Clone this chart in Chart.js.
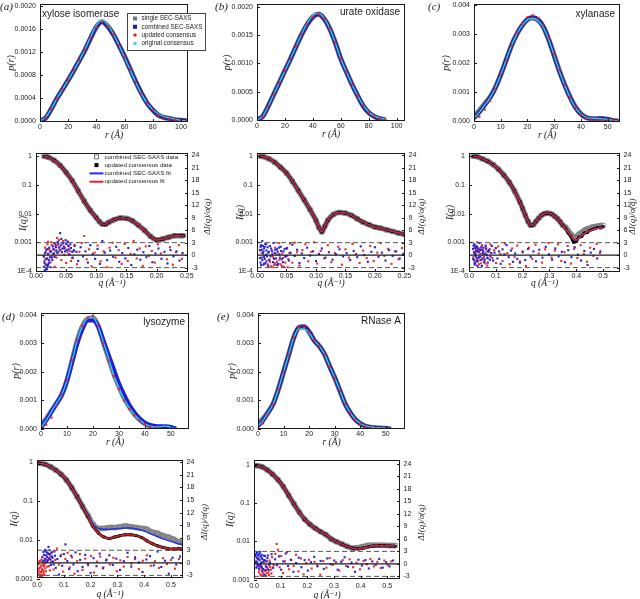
<!DOCTYPE html>
<html>
<head>
<meta charset="utf-8">
<title>SEC-SAXS comparison</title>
<script src="https://cdn.jsdelivr.net/npm/chart.js@4.4.1/dist/chart.umd.min.js"></script>
<style>
  html, body { margin: 0; padding: 0; background: #fff; }
  body { position: relative; width: 640px; height: 599px; overflow: hidden; }
  canvas { position: absolute; }
</style>
</head>
<body>
<script>
// ---------- p(r) data, r in Angstrom ----------
var rA = [0, 4, 8, 12, 16, 20, 24, 28, 32, 36, 40, 44, 48, 52, 56, 60, 64, 68, 72, 76, 80, 84, 88, 92, 96, 100, 104];
var prA_comb = [0, 0.00005, 0.00021, 0.00039, 0.00055, 0.00071, 0.00088, 0.00106, 0.00124, 0.00145, 0.00164, 0.00173, 0.00165, 0.00151, 0.00132, 0.00112, 0.0009, 0.00068, 0.00048, 0.00031, 0.00019, 0.0001, 0.00006, 0.00004, 0.00002, 0.00001, 0];
var prA_orig = [0, 0.00006, 0.00021, 0.00039, 0.00055, 0.00071, 0.00088, 0.00106, 0.00125, 0.00147, 0.00167, 0.00176, 0.00168, 0.00152, 0.00132, 0.00111, 0.00089, 0.00067, 0.00047, 0.00031, 0.0002, 0.00012, 0.00008, 0.00005, 0.00003, 0.00001, 0];
var prA_single = prA_comb;
var prA_upd = prA_comb;

var rB = [0, 4, 8, 12, 16, 20, 24, 28, 32, 36, 40, 44, 48, 52, 56, 60, 64, 68, 72, 76, 80, 84, 88, 92];
var prB_comb = [0, 0.00006, 0.00024, 0.00045, 0.00066, 0.00087, 0.00108, 0.0013, 0.00151, 0.00169, 0.00182, 0.00187, 0.00179, 0.00162, 0.00137, 0.00108, 0.00085, 0.00063, 0.00043, 0.00025, 0.00013, 0.00006, 0.00002, 0];
var prB_orig = [0, 0.00006, 0.00024, 0.00045, 0.00066, 0.00087, 0.00108, 0.0013, 0.00152, 0.00171, 0.00185, 0.00189, 0.0018, 0.00162, 0.00137, 0.00108, 0.00085, 0.00063, 0.00043, 0.00026, 0.00014, 0.00007, 0.00003, 0.00001];
var prB_single = prB_comb;
var prB_upd = prB_comb;

var rC = [0, 2, 4, 6, 8, 10, 12, 14, 16, 18, 20, 22, 24, 26, 28, 30, 32, 34, 36, 38, 40, 42, 44, 46, 48, 50, 52, 54];
var prC_single = [0.00016, 0.00036, 0.0006, 0.00083, 0.00116, 0.0016, 0.0021, 0.0026, 0.003, 0.0033, 0.0035, 0.00356, 0.00348, 0.00324, 0.0028, 0.00226, 0.00172, 0.00124, 0.00082, 0.00048, 0.00025, 0.00012, 0.00008, 0.00007, 0.00007, 0.00005, 0.00002, 0];
var prC_comb = [0.0001, 0.0003, 0.00055, 0.0008, 0.00115, 0.0016, 0.0021, 0.0026, 0.003, 0.0033, 0.00352, 0.00358, 0.0035, 0.00325, 0.0028, 0.00225, 0.0017, 0.00122, 0.0008, 0.00046, 0.00024, 0.00012, 0.00009, 0.00009, 0.0001, 0.00007, 0.00002, 0];
var prC_upd = [0, 0.00015, 0.0004, 0.0007, 0.0011, 0.0016, 0.0021, 0.0026, 0.00305, 0.00335, 0.00358, 0.00365, 0.00356, 0.0033, 0.00287, 0.00232, 0.00176, 0.00126, 0.00082, 0.00046, 0.00022, 0.0001, 0.00006, 0.00004, 0.00003, 0.00003, 0.00002, 0.00001];
var prC_orig = [0.0001, 0.0003, 0.00055, 0.0008, 0.00115, 0.0016, 0.0021, 0.0026, 0.003, 0.0033, 0.0035, 0.00354, 0.00346, 0.00322, 0.0028, 0.00226, 0.0017, 0.00122, 0.0008, 0.00046, 0.00025, 0.00013, 0.0001, 0.00009, 0.00008, 0.00006, 0.00002, 0];

var rD = [0, 2, 4, 6, 8, 10, 12, 14, 16, 18, 20, 22, 24, 26, 28, 30, 32, 34, 36, 38, 40, 42, 44, 46, 48, 50, 52];
var prD_single = [0.0001, 0.00035, 0.00062, 0.0009, 0.0012, 0.0017, 0.0024, 0.0031, 0.0036, 0.00385, 0.00388, 0.0036, 0.00305, 0.0025, 0.00195, 0.0015, 0.0011, 0.00078, 0.00052, 0.00033, 0.00019, 0.0001, 0.00006, 0.00005, 0.00004, 0.00002, 0];
var prD_comb = [0.00005, 0.0003, 0.0006, 0.0009, 0.0012, 0.0017, 0.00235, 0.003, 0.0035, 0.0038, 0.0038, 0.0036, 0.0031, 0.0026, 0.0021, 0.0016, 0.0012, 0.00085, 0.00058, 0.00037, 0.00022, 0.00014, 0.0001, 0.00009, 0.00009, 0.00007, 0];
var prD_upd = [0, 0.00015, 0.0004, 0.0008, 0.0012, 0.0017, 0.0024, 0.0031, 0.0036, 0.0039, 0.00397, 0.0036, 0.003, 0.0024, 0.00185, 0.0014, 0.001, 0.0007, 0.00048, 0.0003, 0.00017, 0.00008, 0.00004, 0.00002, 0, 0, 0];
var prD_orig = [0.00005, 0.0003, 0.0006, 0.0009, 0.0012, 0.0017, 0.0024, 0.0031, 0.0036, 0.00388, 0.0039, 0.0036, 0.00305, 0.0025, 0.0019, 0.00145, 0.00105, 0.00075, 0.0005, 0.00032, 0.00018, 0.0001, 0.00007, 0.00008, 0.0001, 0.00006, 0];

var rE = [0, 2, 4, 6, 8, 10, 12, 14, 16, 18, 20, 22, 24, 26, 28, 30, 32, 34, 36, 38, 40, 42, 44, 46, 48, 50, 52];
var prE_single = [0.00016, 0.00036, 0.0006, 0.0009, 0.0014, 0.002, 0.0026, 0.0032, 0.00355, 0.00358, 0.0034, 0.0031, 0.0029, 0.00262, 0.0022, 0.0018, 0.00135, 0.0009, 0.00058, 0.00034, 0.00019, 0.0001, 0.00006, 0.00004, 0.00003, 0.00002, 0];
var prE_comb = [0.0001, 0.0003, 0.00058, 0.00088, 0.0014, 0.002, 0.0026, 0.0032, 0.00355, 0.00357, 0.0034, 0.0031, 0.0029, 0.00262, 0.0022, 0.0018, 0.00135, 0.0009, 0.00058, 0.00034, 0.00019, 0.0001, 0.00006, 0.00004, 0.00003, 0.00002, 0];
var prE_upd = [0, 0.0002, 0.0005, 0.00085, 0.0014, 0.002, 0.0026, 0.0032, 0.00355, 0.00357, 0.0034, 0.0031, 0.0029, 0.0026, 0.00218, 0.00178, 0.00133, 0.00088, 0.00056, 0.00032, 0.00017, 0.00008, 0.00004, 0.00002, 0.00001, 0, 0];
var prE_orig = [0.0001, 0.0003, 0.00058, 0.00088, 0.0014, 0.002, 0.0026, 0.0032, 0.0035, 0.0035, 0.00336, 0.0031, 0.0029, 0.00262, 0.0022, 0.0018, 0.00135, 0.0009, 0.00058, 0.00035, 0.0002, 0.00011, 0.00007, 0.00005, 0.00004, 0.00003, 0.00001];

// ---------- I(q) data, q in 1/Angstrom ----------
var qA = [0.013, 0.02, 0.03, 0.04, 0.05, 0.06, 0.07, 0.08, 0.09, 0.10, 0.105, 0.11, 0.115, 0.12, 0.13, 0.14, 0.15, 0.16, 0.17, 0.18, 0.19, 0.20, 0.21, 0.22, 0.23, 0.24, 0.245];
var iqA = [1.0, 0.93, 0.72, 0.48, 0.27, 0.14, 0.062, 0.027, 0.013, 0.0072, 0.0053, 0.0043, 0.0042, 0.0049, 0.0062, 0.0071, 0.0068, 0.0056, 0.0039, 0.0026, 0.0016, 0.0012, 0.0013, 0.0015, 0.0017, 0.0017, 0.0017];

var qB = [0.005, 0.01, 0.02, 0.03, 0.04, 0.05, 0.06, 0.07, 0.08, 0.09, 0.10, 0.105, 0.11, 0.115, 0.12, 0.13, 0.14, 0.15, 0.16, 0.17, 0.18, 0.19, 0.20, 0.21, 0.22, 0.23, 0.24, 0.25];
var iqB = [1.0, 0.98, 0.82, 0.62, 0.41, 0.26, 0.135, 0.064, 0.030, 0.0137, 0.0058, 0.0033, 0.0023, 0.0036, 0.0058, 0.0094, 0.011, 0.0104, 0.0087, 0.0066, 0.005, 0.0041, 0.0034, 0.0031, 0.0027, 0.0024, 0.0021, 0.0019];

var qC = [0.015, 0.03, 0.05, 0.07, 0.09, 0.11, 0.13, 0.15, 0.17, 0.19, 0.20, 0.21, 0.22, 0.23, 0.24, 0.25, 0.26, 0.27, 0.28, 0.29, 0.30, 0.31, 0.32, 0.33, 0.34, 0.35, 0.36, 0.37, 0.38, 0.39, 0.40, 0.41, 0.42, 0.43, 0.44, 0.45, 0.46, 0.47, 0.48, 0.49, 0.50];
var iqC_fit = [1.0, 0.97, 0.81, 0.67, 0.51, 0.35, 0.22, 0.125, 0.061, 0.025, 0.015, 0.0087, 0.0054, 0.0039, 0.0041, 0.0054, 0.0069, 0.0087, 0.0099, 0.0104, 0.0102, 0.0094, 0.008, 0.0066, 0.0052, 0.0039, 0.003, 0.0022, 0.0017, 0.0013, 0.0012, 0.0014, 0.0017, 0.002, 0.0023, 0.0025, 0.0027, 0.0029, 0.0031, 0.0032, 0.0033];
var iqC_cons = [1.0, 0.97, 0.81, 0.67, 0.51, 0.35, 0.22, 0.125, 0.061, 0.025, 0.015, 0.0087, 0.0054, 0.0039, 0.0041, 0.0054, 0.0069, 0.0087, 0.0099, 0.0104, 0.0102, 0.0094, 0.008, 0.0066, 0.0052, 0.0039, 0.0031, 0.0021, 0.0016, 0.001, 0.0011, 0.0015, 0.0016, 0.0021, 0.0022, 0.0026, 0.0028, 0.003, 0.0033, 0.0032, 0.0035];
var iqC_comb = [1.0, 0.97, 0.81, 0.67, 0.51, 0.35, 0.22, 0.125, 0.061, 0.025, 0.015, 0.0087, 0.0054, 0.0039, 0.0041, 0.0054, 0.0069, 0.0087, 0.0099, 0.0104, 0.0102, 0.0094, 0.008, 0.0066, 0.0052, 0.0039, 0.0033, 0.0025, 0.0019, 0.0016, 0.0015, 0.0019, 0.0022, 0.0026, 0.0029, 0.0031, 0.0034, 0.0035, 0.0037, 0.0038, 0.0039];

var qD = [0.005, 0.01, 0.03, 0.05, 0.07, 0.09, 0.11, 0.13, 0.15, 0.17, 0.19, 0.21, 0.23, 0.25, 0.27, 0.29, 0.31, 0.33, 0.35, 0.37, 0.39, 0.41, 0.43, 0.45, 0.47, 0.49, 0.51, 0.53, 0.545];
var iqD_cons = [0.95, 0.94, 0.89, 0.77, 0.63, 0.49, 0.35, 0.22, 0.13, 0.073, 0.041, 0.022, 0.015, 0.012, 0.011, 0.012, 0.013, 0.0137, 0.0137, 0.013, 0.0117, 0.0096, 0.0081, 0.0071, 0.0065, 0.006, 0.0059, 0.006, 0.006];
var iqD_combFit = [0.95, 0.94, 0.89, 0.77, 0.63, 0.49, 0.35, 0.22, 0.13, 0.074, 0.043, 0.025, 0.02, 0.019, 0.019, 0.0195, 0.02, 0.0205, 0.0205, 0.0195, 0.018, 0.016, 0.014, 0.0122, 0.0108, 0.0097, 0.0088, 0.008, 0.0076];
var iqD_comb = [0.95, 0.94, 0.89, 0.77, 0.63, 0.49, 0.35, 0.22, 0.13, 0.074, 0.043, 0.025, 0.02, 0.02, 0.021, 0.021, 0.022, 0.023, 0.022, 0.021, 0.02, 0.019, 0.016, 0.015, 0.013, 0.012, 0.0105, 0.009, 0.0085];

var qE = [0.005, 0.01, 0.03, 0.05, 0.07, 0.09, 0.11, 0.13, 0.15, 0.17, 0.19, 0.21, 0.23, 0.25, 0.27, 0.29, 0.31, 0.33, 0.35, 0.37, 0.39, 0.41, 0.43, 0.45, 0.47, 0.49, 0.51, 0.53];
var iqE_cons = [0.97, 0.96, 0.89, 0.74, 0.57, 0.41, 0.27, 0.16, 0.095, 0.058, 0.038, 0.028, 0.022, 0.018, 0.015, 0.0115, 0.0098, 0.0085, 0.0074, 0.0067, 0.0064, 0.0067, 0.0072, 0.0076, 0.0077, 0.0077, 0.0076, 0.0075];
var iqE_comb = [0.97, 0.96, 0.89, 0.74, 0.57, 0.41, 0.27, 0.16, 0.095, 0.058, 0.038, 0.028, 0.022, 0.018, 0.015, 0.0115, 0.0098, 0.0085, 0.0074, 0.0066, 0.0069, 0.0074, 0.0079, 0.008, 0.008, 0.0079, 0.0078, 0.0078];

// ---------- residuals [q, dI/sigma] ----------
var resA_comb = [[0.013,-2.8],[0.014,-1.5],[0.015,-3.6],[0.015,0.5],[0.016,-2.2],[0.017,1.2],[0.017,-3.1],[0.018,-0.8],[0.019,-2.6],[0.020,0.3],[0.021,-1.9],[0.022,1.8],[0.023,-0.5],[0.024,-2.9],[0.025,0.9],[0.027,-1.2],[0.028,2.1],[0.030,0.4],[0.032,2.6],[0.034,1.1],[0.036,3.2],[0.038,1.8],[0.040,5.3],[0.041,2.4],[0.043,0.7],[0.045,2.9],[0.047,1.6],[0.049,3.6],[0.051,1.2],[0.053,2.3],[0.055,0.2],[0.058,1.7],[0.061,-0.6],[0.064,2.2],[0.067,0.8],[0.070,-1.4],[0.074,1.9],[0.078,-0.3],[0.082,0.9],[0.086,-1.8],[0.090,2.4],[0.094,0.3],[0.098,-0.9],[0.102,1.5],[0.106,-2.1],[0.110,3.4],[0.114,0.6],[0.118,-1.2],[0.123,1.1],[0.128,-0.4],[0.133,2.0],[0.138,-1.6],[0.143,0.5],[0.148,-0.8],[0.153,1.7],[0.158,-2.4],[0.163,0.2],[0.168,1.3],[0.173,-1.1],[0.178,0.7],[0.183,-0.5],[0.188,2.2],[0.193,-1.7],[0.198,0.4],[0.203,1.6],[0.208,-0.9],[0.213,0.8],[0.218,-2.0],[0.223,1.2],[0.228,-0.3],[0.233,0.9],[0.238,-1.3],[0.243,0.5],
  [0.013,-0.2],[0.014,-3.9],[0.016,-1.0],[0.018,-3.4],[0.019,1.5],[0.020,-2.4],[0.022,-1.3],[0.024,0.8],[0.026,-0.6],[0.029,1.4],[0.031,-0.4],[0.033,1.9],[0.035,0.6],[0.037,2.8],[0.039,1.1],[0.042,3.9],[0.044,1.6],[0.046,2.1],[0.048,0.9],[0.050,2.7],[0.052,3.1],[0.054,1.4],[0.057,2.6],[0.060,0.8],[0.063,1.2]];
var resA_cons = [[0.013,-0.5],[0.015,1.8],[0.017,-2.4],[0.019,2.6],[0.021,-1.1],[0.023,0.9],[0.025,3.1],[0.027,-0.4],[0.029,1.5],[0.031,-2.8],[0.033,2.2],[0.035,4.1],[0.037,0.6],[0.039,1.9],[0.042,-1.2],[0.044,2.8],[0.047,0.1],[0.050,-1.9],[0.053,3.3],[0.056,1.0],[0.060,-0.7],[0.064,2.5],[0.068,-2.2],[0.072,0.8],[0.076,2.9],[0.080,4.6],[0.084,-1.0],[0.088,1.4],[0.092,-2.7],[0.097,0.6],[0.102,2.3],[0.107,-1.5],[0.112,0.9],[0.117,-2.9],[0.122,1.8],[0.127,3.0],[0.132,-0.6],[0.137,1.2],[0.142,-2.1],[0.147,2.7],[0.152,-1.4],[0.157,0.3],[0.162,3.4],[0.167,-0.8],[0.172,1.6],[0.177,-2.6],[0.182,2.1],[0.187,-0.2],[0.192,1.0],[0.197,-1.8],[0.202,2.6],[0.207,0.4],[0.212,3.5],[0.217,-1.0],[0.222,1.9],[0.227,-2.3],[0.232,0.7],[0.237,2.4],[0.242,-0.9],
  [0.014,-1.9],[0.016,0.7],[0.018,-0.9],[0.020,3.2],[0.022,1.4],[0.024,-1.8],[0.026,2.4],[0.028,0.3],[0.030,2.9],[0.032,1.1],[0.034,-0.6],[0.036,2.5],[0.038,3.6],[0.041,1.3],[0.045,3.4],[0.048,1.8],[0.052,0.7],[0.055,2.1],[0.058,-1.4],[0.062,0.9]];

var resB_comb = [[0.005,1.2],[0.006,-1.8],[0.007,2.4],[0.008,-0.6],[0.009,3.4],[0.010,0.4],[0.011,-2.3],[0.012,1.6],[0.013,-0.9],[0.014,2.7],[0.015,0.1],[0.016,-1.5],[0.018,1.9],[0.019,-2.6],[0.020,0.8],[0.022,2.2],[0.023,-0.3],[0.025,1.1],[0.027,-1.7],[0.028,2.9],[0.030,0.5],[0.032,-0.8],[0.034,1.4],[0.036,-2.1],[0.038,0.2],[0.040,2.0],[0.042,-1.0],[0.045,0.9],[0.048,-0.4],[0.051,1.7],[0.054,-1.3],[0.057,0.6],[0.060,2.5],[0.064,-0.2],[0.068,1.3],[0.072,-1.9],[0.076,0.4],[0.080,-0.7],[0.085,1.8],[0.090,-0.1],[0.095,0.9],[0.100,-1.4],[0.105,0.3],[0.110,1.6],[0.116,-0.6],[0.122,0.7],[0.128,-1.1],[0.134,0.2],[0.140,1.4],[0.146,-0.3],[0.152,0.5],[0.158,-1.2],[0.164,1.0],[0.170,-0.5],[0.176,2.1],[0.182,0.0],[0.188,-1.6],[0.194,0.8],[0.200,1.9],[0.206,-0.4],[0.212,0.6],[0.218,-1.3],[0.224,1.2],[0.230,-0.2],[0.236,0.9],[0.242,-0.8],[0.248,0.3],
  [0.005,-0.7],[0.006,2.0],[0.007,-2.4],[0.008,1.3],[0.009,-1.2],[0.010,2.2],[0.011,0.9],[0.012,-0.4],[0.013,2.0],[0.014,-2.0],[0.016,1.1],[0.017,-0.3],[0.019,0.6],[0.021,-1.1],[0.024,1.6],[0.026,0.2],[0.029,-0.9],[0.031,1.3],[0.033,-2.3],[0.035,0.8],[0.037,1.8],[0.039,-0.6],[0.041,1.0],[0.044,-1.7],[0.047,1.5],[0.050,-0.2]];
var resB_cons = [[0.008,0.6],[0.012,-2.0],[0.016,2.6],[0.020,-1.2],[0.024,-2.7],[0.026,0.9],[0.029,-2.4],[0.031,1.8],[0.034,-1.6],[0.037,2.9],[0.040,-2.2],[0.043,0.4],[0.046,-2.8],[0.050,1.5],[0.053,-0.9],[0.056,2.8],[0.060,-1.8],[0.064,3.0],[0.068,0.7],[0.072,-2.5],[0.077,1.2],[0.082,2.6],[0.087,-1.5],[0.092,0.8],[0.097,3.1],[0.102,-2.0],[0.108,1.0],[0.114,-0.8],[0.120,2.4],[0.126,-1.7],[0.132,0.5],[0.138,2.0],[0.144,-2.3],[0.150,1.4],[0.156,-0.6],[0.162,2.7],[0.168,0.3],[0.174,-1.9],[0.180,1.1],[0.186,-0.7],[0.192,2.2],[0.198,-1.4],[0.204,0.6],[0.210,2.9],[0.216,-0.2],[0.222,1.5],[0.228,-2.1],[0.234,0.9],[0.240,-1.0],[0.246,1.7],
  [0.018,-2.2],[0.022,-1.6],[0.025,-2.9],[0.027,-0.5],[0.030,-1.9],[0.033,0.2],[0.035,-2.5],[0.038,-1.1],[0.042,-2.6],[0.044,-0.7],[0.048,-1.8],[0.052,-2.9],[0.055,0.5]];

var resC_comb = [[0.015,1.5],[0.018,-1.2],[0.020,2.6],[0.022,0.3],[0.024,-2.2],[0.026,1.0],[0.028,-0.6],[0.030,2.0],[0.033,-1.5],[0.036,0.7],[0.039,2.9],[0.042,-0.4],[0.045,1.3],[0.048,-2.6],[0.051,0.5],[0.054,1.8],[0.058,-1.0],[0.062,2.3],[0.066,0.1],[0.070,-1.8],[0.075,1.2],[0.080,-0.3],[0.085,2.2],[0.090,-1.3],[0.095,0.6],[0.100,1.7],[0.106,-0.8],[0.112,0.9],[0.118,-2.1],[0.125,1.4],[0.132,0.2],[0.140,2.4],[0.148,-0.5],[0.156,1.1],[0.164,-1.6],[0.172,0.4],[0.180,-0.9],[0.190,-1.8],[0.200,0.7],[0.210,-1.2],[0.220,1.5],[0.230,-0.4],[0.240,0.9],[0.250,-1.5],[0.262,1.3],[0.274,-0.6],[0.286,2.0],[0.298,0.2],[0.310,-1.1],[0.322,1.6],[0.334,-0.3],[0.346,0.8],[0.358,-1.7],[0.370,1.2],[0.382,-0.5],[0.394,1.9],[0.406,0.1],[0.418,-1.3],[0.430,1.0],[0.442,-2.4],[0.454,0.6],[0.466,1.5],[0.478,-0.8],[0.490,0.9],
  [0.016,-0.9],[0.017,2.3],[0.019,0.6],[0.021,-1.9],[0.023,1.7],[0.025,-0.2],[0.027,2.2],[0.029,-1.4],[0.031,0.9],[0.032,-2.6],[0.034,1.6],[0.037,-0.5],[0.040,1.1],[0.043,-1.2],[0.046,2.0],[0.050,-0.8],[0.053,1.0],[0.056,-1.7],[0.060,0.4],[0.064,1.5],[0.068,-0.6],[0.072,0.9],[0.078,-1.1],[0.083,0.5]];
var resC_cons = [[0.016,-0.5],[0.019,2.1],[0.023,-1.6],[0.027,1.4],[0.031,3.1],[0.035,-0.8],[0.040,1.6],[0.044,-2.0],[0.049,2.4],[0.053,0.2],[0.058,-1.3],[0.063,1.9],[0.068,-2.5],[0.074,0.8],[0.080,2.6],[0.087,-0.7],[0.094,1.2],[0.101,-1.9],[0.109,2.1],[0.117,0.3],[0.125,-1.4],[0.134,2.8],[0.143,0.5],[0.152,-2.2],[0.161,1.6],[0.170,-0.4],[0.180,2.3],[0.190,-1.5],[0.200,0.9],[0.212,-2.6],[0.224,1.8],[0.236,-0.9],[0.248,2.5],[0.260,0.4],[0.272,-1.8],[0.284,1.4],[0.296,2.9],[0.308,-0.6],[0.320,1.1],[0.332,2.6],[0.344,-1.4],[0.356,0.7],[0.368,2.2],[0.380,-2.0],[0.392,1.5],[0.404,-0.7],[0.416,2.4],[0.428,0.3],[0.440,-1.6],[0.452,1.8],[0.464,-0.2],[0.476,2.7],[0.488,0.5],
  [0.018,0.8],[0.021,-2.3],[0.025,0.4],[0.029,-1.0],[0.033,1.2],[0.037,-2.2],[0.042,0.3],[0.047,-1.1],[0.051,1.4],[0.056,-0.4],[0.061,-2.0],[0.066,0.9],[0.071,-0.8],[0.077,1.5]];

var resD_comb = [[0.020,1.4],[0.024,2.6],[0.028,0.5],[0.031,3.1],[0.034,1.8],[0.037,0.2],[0.040,2.3],[0.043,3.8],[0.046,1.0],[0.049,2.0],[0.052,-0.5],[0.056,1.5],[0.060,0.3],[0.065,2.7],[0.070,-1.2],[0.076,0.9],[0.082,-2.8],[0.088,1.6],[0.094,-0.7],[0.100,2.1],[0.106,4.4],[0.113,0.4],[0.120,-1.5],[0.128,1.7],[0.136,-0.4],[0.144,2.5],[0.152,-2.0],[0.161,0.7],[0.170,-1.0],[0.180,1.9],[0.190,-0.3],[0.200,-2.4],[0.211,1.1],[0.222,-0.8],[0.234,2.2],[0.246,-1.3],[0.258,0.6],[0.270,1.8],[0.283,-0.5],[0.296,1.0],[0.310,-1.7],[0.324,0.4],[0.338,2.4],[0.352,-0.9],[0.366,1.3],[0.380,0.1],[0.394,-2.2],[0.408,0.8],[0.422,1.6],[0.436,-0.6],[0.450,2.7],[0.464,-1.0],[0.478,0.5],[0.492,-2.6],[0.506,1.2],[0.520,-0.4],[0.534,1.5],
  [0.022,0.4],[0.026,1.9],[0.029,2.9],[0.032,0.9],[0.035,2.6],[0.038,1.4],[0.041,0.6],[0.044,2.1],[0.047,3.0],[0.050,0.8],[0.054,2.4],[0.058,1.2],[0.062,-0.4],[0.067,1.7]];
var resD_cons = [[0.005,-1.5],[0.007,-2.6],[0.009,0.4],[0.011,-3.2],[0.013,-1.0],[0.015,-2.2],[0.017,0.8],[0.019,-1.8],[0.021,-2.9],[0.023,-0.5],[0.025,-2.4],[0.028,1.0],[0.031,-1.3],[0.035,0.5],[0.040,2.2],[0.045,-0.8],[0.050,1.5],[0.056,2.6],[0.062,-1.6],[0.068,0.7],[0.075,3.4],[0.082,-0.4],[0.090,1.9],[0.098,-2.1],[0.106,0.9],[0.114,2.4],[0.122,-1.1],[0.131,1.3],[0.140,-2.6],[0.150,0.4],[0.160,2.1],[0.170,-1.7],[0.180,1.0],[0.191,-0.6],[0.202,1.6],[0.213,-2.3],[0.224,0.3],[0.236,1.5],[0.248,-1.1],[0.260,0.8],[0.272,-0.4],[0.285,1.2],[0.298,-2.0],[0.311,0.6],[0.324,-0.9],[0.338,1.4],[0.352,-0.2],[0.366,0.9],[0.380,-1.5],[0.395,0.5],[0.410,1.8],[0.425,-0.7],[0.440,0.4],[0.455,-1.2],[0.470,1.1],[0.485,-0.3],[0.500,0.7],[0.515,-1.4],[0.530,0.9],
  [0.006,-0.3],[0.008,-2.0],[0.010,-1.2],[0.012,0.5],[0.014,-2.8],[0.016,-0.6],[0.018,-3.3],[0.020,-1.4],[0.022,0.2],[0.024,-1.9],[0.026,-0.8],[0.027,-2.9],[0.029,-0.2],[0.033,-2.0],[0.038,-0.9],[0.043,1.1],[0.048,-1.8],[0.053,0.3]];

var resE_comb = [[0.005,1.9],[0.008,0.6],[0.011,2.7],[0.013,-0.4],[0.015,1.3],[0.017,2.2],[0.019,-1.1],[0.021,0.9],[0.023,2.9],[0.025,-0.2],[0.027,1.6],[0.030,-1.8],[0.033,0.5],[0.036,2.0],[0.039,-2.6],[0.042,0.8],[0.046,-0.7],[0.050,1.4],[0.055,-1.5],[0.060,0.3],[0.066,2.3],[0.072,-0.9],[0.079,1.1],[0.086,-0.3],[0.094,1.8],[0.102,-1.4],[0.110,0.6],[0.119,2.5],[0.128,-0.5],[0.138,1.0],[0.148,-1.9],[0.158,0.2],[0.168,1.5],[0.178,-0.8],[0.190,0.9],[0.202,-1.6],[0.214,0.4],[0.226,1.7],[0.238,-0.6],[0.250,0.7],[0.262,-1.2],[0.275,1.3],[0.288,-0.1],[0.301,0.8],[0.314,-1.4],[0.327,0.5],[0.340,1.6],[0.353,-0.7],[0.366,0.3],[0.379,-1.9],[0.392,1.0],[0.405,-0.4],[0.418,0.9],[0.431,-1.1],[0.444,0.6],[0.457,-0.2],[0.470,1.2],[0.483,-0.9],[0.496,0.4],[0.509,-0.6],[0.522,0.8],
  [0.006,0.2],[0.007,2.4],[0.009,-0.9],[0.010,1.5],[0.012,0.4],[0.014,2.0],[0.016,-0.3],[0.018,1.1],[0.020,2.5],[0.022,-0.6],[0.024,1.8],[0.026,0.3],[0.028,2.2],[0.029,-0.8],[0.031,1.2],[0.035,-1.2],[0.038,0.9],[0.041,1.9],[0.044,-1.5],[0.048,0.6],[0.052,2.0],[0.057,-0.2]];
var resE_cons = [[0.010,-0.8],[0.014,1.2],[0.018,-2.0],[0.022,-0.5],[0.026,-2.8],[0.030,-1.2],[0.034,-2.3],[0.038,0.4],[0.042,-1.7],[0.046,-2.9],[0.050,-0.9],[0.054,-2.1],[0.058,0.8],[0.063,-1.4],[0.068,1.6],[0.074,-0.3],[0.080,2.4],[0.085,4.8],[0.090,3.4],[0.096,-0.8],[0.102,1.9],[0.109,-2.2],[0.116,0.6],[0.124,2.8],[0.132,-1.3],[0.140,0.9],[0.149,-0.5],[0.158,2.2],[0.167,-1.8],[0.176,1.3],[0.186,-2.5],[0.196,0.2],[0.206,1.0],[0.216,-1.1],[0.227,0.5],[0.238,-0.4],[0.249,-2.6],[0.260,0.7],[0.272,-0.9],[0.284,1.4],[0.296,-0.2],[0.308,0.4],[0.320,-1.6],[0.333,0.9],[0.346,-0.5],[0.359,1.1],[0.372,-0.8],[0.385,0.3],[0.398,-1.3],[0.411,0.7],[0.424,-0.1],[0.437,1.2],[0.450,-0.6],[0.463,0.5],[0.476,-1.0],[0.489,0.8],[0.502,-0.3],[0.515,0.6],
  [0.020,-1.4],[0.024,-2.5],[0.028,-0.6],[0.032,-2.9],[0.036,-1.6],[0.040,-2.6],[0.044,-0.4],[0.048,-2.2],[0.052,-1.3],[0.056,-2.7],[0.060,-0.7],[0.065,-2.3],[0.070,-1.0]];

// ---------- ticks ----------
var prTicksA = [0, 0.0004, 0.0008, 0.0012, 0.0016, 0.002];
var prLabelsA = ['0.0000', '0.0004', '0.0008', '0.0012', '0.0016', '0.0020'];
var prTicksB = [0, 0.0005, 0.001, 0.0015, 0.002];
var prLabelsB = ['0.0000', '0.0005', '0.0010', '0.0015', '0.0020'];
var prTicksC = [0, 0.001, 0.002, 0.003, 0.004];
var prLabelsC = ['0.000', '0.001', '0.002', '0.003', '0.004'];
var rTicks100 = [0, 20, 40, 60, 80, 100];
var rLabels100 = ['0', '20', '40', '60', '80', '100'];
var rTicks50 = [0, 10, 20, 30, 40, 50];
var rLabels50 = ['0', '10', '20', '30', '40', '50'];
var qTicks25 = [0, 0.05, 0.1, 0.15, 0.2, 0.25];
var qLabels25 = ['0.00', '0.05', '0.10', '0.15', '0.20', '0.25'];
var qTicks5 = [0, 0.1, 0.2, 0.3, 0.4, 0.5];
var qLabels5 = ['0.0', '0.1', '0.2', '0.3', '0.4', '0.5'];
var iTicks4 = [1, 0.1, 0.01, 0.001, 0.0001];
var iLabels4 = ['1', '0.1', '0.01', '0.001', '1E-4'];
var iTicks3 = [1, 0.1, 0.01, 0.001];
var iLabels3 = ['1', '0.1', '0.01', '0.001'];
var resTicks = [-3, 0, 3, 6, 9, 12, 15, 18, 21, 24];
var resLabels = ['-3', '0', '3', '6', '9', '12', '15', '18', '21', '24'];

// ---------- drawing ----------
var SANS = "'Liberation Sans', Arial, sans-serif";
var SERIF = "'Liberation Serif', 'DejaVu Serif', serif";
var INK = '#1a1a1a';
var GRAY = '#75758a', NAVY = '#27279a', BRIGHT = '#1e1ed6', CYAN = '#35d5e8', RED = '#e3232b', BLUE = '#1f30e6';

function toPts(xs, ys) { return xs.map(function (x, i) { return { x: x, y: ys[i] }; }); }
function toPairs(list) { return list.map(function (p) { return { x: p[0], y: p[1] }; }); }
function fixed(vals) { return function (s) { s.ticks = vals.map(function (v) { return { value: v }; }); }; }
function wide(w) { return function (s) { s.width = w; s.paddingLeft = s.paddingRight = s.paddingTop = s.paddingBottom = 0; }; }
function tall(h) { return function (s) { s.height = h; s.paddingLeft = s.paddingRight = s.paddingTop = s.paddingBottom = 0; }; }

function xScale(max, vals, labels, title, tickPad, titlePad, h) {
  return {
    type: 'linear', position: 'bottom', min: 0, max: max,
    afterBuildTicks: fixed(vals), afterFit: tall(h),
    grid: { display: false, drawTicks: false }, border: { display: false },
    ticks: { autoSkip: false, maxRotation: 0, padding: tickPad, color: INK,
      font: { family: SANS, size: 7, lineHeight: 1 },
      callback: function (v, i) { return labels[i]; } },
    title: { display: true, text: title, color: INK,
      font: { family: SERIF, size: 9.5, style: 'italic', lineHeight: 1.2 },
      padding: { top: 0, bottom: titlePad } }
  };
}

// title === null -> the title is drawn by the deco plugin instead
function yScale(pos, type, min, max, vals, labels, title, titlePad, w) {
  return {
    type: type, position: pos, min: min, max: max,
    afterBuildTicks: fixed(vals), afterFit: wide(w),
    grid: { display: false, drawTicks: false }, border: { display: false },
    ticks: { autoSkip: false, padding: pos === 'left' ? 4 : 3.5, color: INK,
      font: { family: SANS, size: 7, lineHeight: 1 },
      callback: function (v, i) { return labels[i]; } },
    title: { display: !!title, text: title || '', color: INK,
      font: { family: SERIF, size: 10, style: 'italic', lineHeight: 1.2 },
      padding: { top: titlePad, bottom: 0 } }
  };
}

// frame, inward ticks, panel texts, rotated titles and legends
var deco = {
  id: 'deco',
  afterDraw: function (chart, args, o) {
    var ctx = chart.ctx, a = chart.chartArea;
    ctx.save();
    ctx.strokeStyle = INK;
    ctx.lineWidth = 1;
    ctx.beginPath();
    Object.keys(chart.scales).forEach(function (id) {
      var s = chart.scales[id];
      s.ticks.forEach(function (t) {
        var p = Math.round(s.getPixelForValue(t.value)) + 0.5;
        if (s.position === 'bottom') { ctx.moveTo(p, a.bottom); ctx.lineTo(p, a.bottom - 3); }
        else if (s.position === 'left') { ctx.moveTo(a.left, p); ctx.lineTo(a.left + 3, p); }
        else { ctx.moveTo(a.right, p); ctx.lineTo(a.right - 3, p); }
      });
    });
    ctx.stroke();
    ctx.strokeRect(a.left + 0.5, a.top + 0.5, a.width - 1, a.height - 1);

    ctx.fillStyle = INK;
    (o.texts || []).forEach(function (t) {
      ctx.font = t.font;
      ctx.textAlign = t.align || 'left';
      ctx.textBaseline = 'top';
      ctx.fillText(t.text, (t.align === 'right' ? a.right : a.left) + t.x, a.top + t.y);
    });

    (o.vtitles || []).forEach(function (t) {
      ctx.save();
      ctx.translate(t.side === 'left' ? a.left - t.d : a.right + t.d, (a.top + a.bottom) / 2 + t.dy);
      ctx.rotate(-Math.PI / 2);
      ctx.font = t.font;
      ctx.textAlign = 'center';
      ctx.textBaseline = 'middle';
      ctx.fillText(t.text, 0, 0);
      ctx.restore();
    });

    var g = o.legend;
    if (g) {
      if (g.box) {
        ctx.fillStyle = '#fff';
        ctx.fillRect(a.left + g.box[0], a.top + g.box[1], g.box[2], g.box[3]);
        ctx.strokeStyle = '#444';
        ctx.strokeRect(a.left + g.box[0] + 0.5, a.top + g.box[1] + 0.5, g.box[2], g.box[3]);
      }
      ctx.font = g.font;
      ctx.textAlign = 'left';
      ctx.textBaseline = 'middle';
      g.items.forEach(function (it, i) {
        var x = a.left + g.x, y = a.top + g.y + i * g.dy;
        if (it.kind === 'line') {
          ctx.strokeStyle = it.color; ctx.lineWidth = 2;
          ctx.beginPath(); ctx.moveTo(x - 7, y); ctx.lineTo(x + 7, y); ctx.stroke();
        } else if (it.kind === 'open') {
          ctx.strokeStyle = it.color; ctx.lineWidth = 1;
          ctx.strokeRect(x - it.s / 2 + 0.5, y - it.s / 2 + 0.5, it.s - 1, it.s - 1);
        } else {
          ctx.fillStyle = it.color;
          ctx.fillRect(x - it.s / 2, y - it.s / 2, it.s, it.s);
        }
        ctx.fillStyle = INK;
        ctx.fillText(it.label, a.left + g.tx, y);
      });
    }
    ctx.restore();
  }
};

function build(rect, L, R, T, B, hasRight, scales, datasets, decoOpts) {
  var c = document.createElement('canvas');
  var w = rect.r - rect.l + L + R, h = rect.b - rect.t + T + B;
  c.width = w; c.height = h;
  c.style.left = (rect.l - L) + 'px';
  c.style.top = (rect.t - T) + 'px';
  c.style.width = w + 'px';
  c.style.height = h + 'px';
  document.body.appendChild(c);
  return new Chart(c, {
    type: 'scatter',
    data: { datasets: datasets },
    options: {
      responsive: false, animation: false, devicePixelRatio: 1,
      layout: { padding: { left: 0, top: T, right: hasRight ? 0 : R, bottom: 0 } },
      scales: scales,
      plugins: { legend: { display: false }, tooltip: { enabled: false }, deco: decoOpts }
    },
    plugins: [deco]
  });
}

function prSets(r, single, comb, upd, orig, combColor) {
  function line(label, ys, color, w, order) {
    return { label: label, data: toPts(r, ys), showLine: true, borderColor: color, borderWidth: w,
      pointRadius: 0, cubicInterpolationMode: 'monotone', order: order };
  }
  return [
    line('single SEC-SAXS', single, GRAY, 5.2, 4),
    line('combined SEC-SAXS', comb, combColor, 4.2, 3),
    line('original consensus', orig, CYAN, 1.3, 2),
    { label: 'updated consensus', data: toPts(r, upd), pointStyle: 'rect', pointRadius: 1.6,
      pointBackgroundColor: RED, pointBorderWidth: 0, order: 1 }
  ];
}

function iqSets(q, combData, consData, combFit, consFit, resComb, resCons, xmax) {
  function ref(y, dash, color, w) {
    return { data: [{ x: 0, y: y }, { x: xmax, y: y }], yAxisID: 'y2', showLine: true, pointRadius: 0,
      borderColor: color, borderWidth: w, borderDash: dash, order: 5 };
  }
  return [
    { label: 'updated consensus fit', data: toPts(q, consFit), showLine: true, borderColor: RED, borderWidth: 1.4,
      pointRadius: 0, cubicInterpolationMode: 'monotone', order: 1 },
    { label: 'combined SEC-SAXS fit', data: toPts(q, combFit), showLine: true, borderColor: BLUE, borderWidth: 1.4,
      pointRadius: 0, cubicInterpolationMode: 'monotone', order: 2 },
    { label: 'updated consensus data', data: toPts(q, consData), showLine: true, borderColor: '#151515', borderWidth: 3,
      cubicInterpolationMode: 'monotone', pointStyle: 'rect', pointRadius: 2, pointBackgroundColor: '#000', pointBorderWidth: 0, order: 3 },
    { label: 'combined SEC-SAXS data', data: toPts(q, combData), showLine: true, borderColor: '#8e8e8e', borderWidth: 5.5,
      cubicInterpolationMode: 'monotone', pointStyle: 'rect', pointRadius: 3, pointBackgroundColor: 'rgba(0,0,0,0)',
      pointBorderColor: '#7a7a7a', pointBorderWidth: 0.8, order: 4 },
    ref(0, [], INK, 1.2),
    ref(3, [5, 3], '#555', 1),
    ref(-3, [5, 3], '#555', 1),
    { label: 'combined residual', data: toPairs(resComb), yAxisID: 'y2', pointStyle: 'rect', pointRadius: 1.5,
      pointBackgroundColor: '#2424d8', pointBorderWidth: 0, order: 6 },
    { label: 'consensus residual', data: toPairs(resCons), yAxisID: 'y2', pointStyle: 'rect', pointRadius: 1.5,
      pointBackgroundColor: '#ee2a2a', pointBorderWidth: 0, order: 7 }
  ];
}

var letterFont = 'italic 11px ' + SERIF;
var nameFont = '10px ' + SANS;
var titleFont = 'italic 10px ' + SERIF;
var resFont = 'italic 9px ' + SERIF;
var RT = 'r (Å)', PT = 'p(r)', QT = 'q (Å⁻¹)', IT = 'I(q)', DT = 'ΔI(q)/σ(q)';

// (a) xylose isomerase
build({ l: 40, t: 4, r: 188, b: 122 }, 48, 20, 4, 20, false, {
  x: xScale(105, rTicks100, rLabels100, RT, 1.2, 1.3, 20),
  y: yScale('left', 'linear', -0.00002, 0.00204, prTicksA, prLabelsA, PT, 13, 48)
}, prSets(rA, prA_single, prA_comb, prA_upd, prA_orig, NAVY), {
  texts: [{ text: '(a)', x: -40, y: -2, font: letterFont }, { text: 'xylose isomerase', x: 2, y: 5, font: nameFont }],
  legend: { box: [87, 9, 78, 37], x: 95, tx: 101.5, y: 14.5, dy: 8.3, font: '6.3px ' + SANS, items: [
    { label: 'single SEC-SAXS', kind: 'sq', color: GRAY, s: 4 },
    { label: 'combined SEC-SAXS', kind: 'sq', color: '#1c1ca8', s: 4 },
    { label: 'updated consensus', kind: 'sq', color: RED, s: 3 },
    { label: 'original consensus', kind: 'sq', color: CYAN, s: 3 }
  ] }
});
build({ l: 36, t: 153, r: 188, b: 272 }, 40, 26, 8, 20, true, {
  x: xScale(0.252, qTicks25, qLabels25, QT, 0.5, 3.3, 20),
  y: yScale('left', 'logarithmic', 9.2e-5, 1.3, iTicks4, iLabels4, null, 0, 40),
  y2: yScale('right', 'linear', -4.06, 24.58, resTicks, resLabels, null, 0, 26)
}, iqSets(qA, iqA, iqA, iqA, iqA, resA_comb, resA_cons, 0.252), {
  vtitles: [{ text: IT, side: 'left', d: 13, dy: 11, font: titleFont }, { text: DT, side: 'right', d: 19.5, dy: 4, font: resFont }],
  legend: { x: 60.5, tx: 68.5, y: 3.8, dy: 8.3, font: '6.2px ' + SANS, items: [
    { label: 'combined SEC-SAXS data', kind: 'open', color: '#777', s: 5 },
    { label: 'updated consensus data', kind: 'sq', color: '#000', s: 4 },
    { label: 'combined SEC-SAXS fit', kind: 'line', color: BLUE },
    { label: 'updated consensus fit', kind: 'line', color: RED }
  ] }
});

// (b) urate oxidase
build({ l: 257, t: 4, r: 405, b: 121 }, 48, 6, 4, 20, false, {
  x: xScale(106, rTicks100, rLabels100, RT, 1.2, 1.3, 20),
  y: yScale('left', 'linear', -0.00002, 0.00205, prTicksB, prLabelsB, PT, 12.3, 48)
}, prSets(rB, prB_single, prB_comb, prB_upd, prB_orig, NAVY), {
  texts: [{ text: '(b)', x: -42, y: -2, font: letterFont }, { text: 'urate oxidase', x: -5, y: 3.5, font: nameFont, align: 'right' }]
});
build({ l: 257, t: 153, r: 405, b: 272 }, 40, 24, 8, 20, true, {
  x: xScale(0.251, qTicks25, qLabels25, QT, 0.5, 3.3, 20),
  y: yScale('left', 'logarithmic', 9.2e-5, 1.3, iTicks4, iLabels4, IT, 17, 40),
  y2: yScale('right', 'linear', -4.06, 24.58, resTicks, resLabels, null, 0, 24)
}, iqSets(qB, iqB, iqB, iqB, iqB, resB_comb, resB_cons, 0.251), {
  vtitles: [{ text: DT, side: 'right', d: 16.7, dy: 4, font: resFont }]
});

// (c) xylanase
build({ l: 474, t: 4, r: 620, b: 122 }, 48, 6, 4, 20, false, {
  x: xScale(54.6, rTicks50, rLabels50, RT, 1.2, 1.3, 20),
  y: yScale('left', 'linear', -0.00003, 0.00404, prTicksC, prLabelsC, PT, 14.7, 48)
}, prSets(rC, prC_single, prC_comb, prC_upd, prC_orig, NAVY), {
  texts: [{ text: '(c)', x: -46, y: -2, font: letterFont }, { text: 'xylanase', x: -5, y: 5, font: nameFont, align: 'right' }]
});
build({ l: 469, t: 153, r: 620, b: 272 }, 40, 20, 8, 20, true, {
  x: xScale(0.563, qTicks5, qLabels5, QT, 0.5, 3.3, 20),
  y: yScale('left', 'logarithmic', 9.2e-5, 1.3, iTicks4, iLabels4, IT, 15, 40),
  y2: yScale('right', 'linear', -4.06, 24.58, resTicks, resLabels, null, 0, 20)
}, iqSets(qC, iqC_comb, iqC_cons, iqC_fit, iqC_fit, resC_comb, resC_cons, 0.563), {
  vtitles: [{ text: DT, side: 'right', d: 13, dy: 4, font: resFont }]
});

// (d) lysozyme
build({ l: 41, t: 313, r: 189, b: 429 }, 48, 6, 8, 20, false, {
  x: xScale(57, rTicks50, rLabels50, RT, 1.2, 0.9, 20),
  y: yScale('left', 'linear', 0, 0.00406, prTicksC, prLabelsC, PT, 17, 48)
}, prSets(rD, prD_single, prD_comb, prD_upd, prD_orig, BRIGHT), {
  texts: [{ text: '(d)', x: -39, y: -1, font: letterFont }, { text: 'lysozyme', x: -4, y: 4, font: nameFont, align: 'right' }]
});
build({ l: 37, t: 460, r: 183, b: 578 }, 40, 28, 8, 22, true, {
  x: xScale(0.545, qTicks5, qLabels5, QT, 3.2, 0.3, 22),
  y: yScale('left', 'logarithmic', 0.00106, 1.146, iTicks3, iLabels3, IT, 11, 40),
  y2: yScale('right', 'linear', -3.62, 24.55, resTicks, resLabels, null, 0, 28)
}, iqSets(qD, iqD_comb, iqD_cons, iqD_combFit, iqD_cons, resD_comb, resD_cons, 0.545), {
  vtitles: [{ text: DT, side: 'right', d: 22, dy: 3, font: resFont }]
});

// (e) RNase A
build({ l: 258, t: 313, r: 405, b: 429 }, 48, 6, 8, 20, false, {
  x: xScale(57.5, rTicks50, rLabels50, RT, 1.2, 0.9, 20),
  y: yScale('left', 'linear', 0, 0.00406, prTicksC, prLabelsC, PT, 16.3, 48)
}, prSets(rE, prE_single, prE_comb, prE_upd, prE_orig, NAVY), {
  texts: [{ text: '(e)', x: -41, y: -1, font: letterFont }, { text: 'RNase A', x: -4, y: 3, font: nameFont, align: 'right' }]
});
build({ l: 254, t: 460, r: 400, b: 579 }, 40, 28, 8, 22, true, {
  x: xScale(0.548, qTicks5, qLabels5, QT, 3.2, 0.3, 22),
  y: yScale('left', 'logarithmic', 0.00104, 1.35, iTicks3, iLabels3, IT, 10, 40),
  y2: yScale('right', 'linear', -3.63, 24.96, resTicks, resLabels, null, 0, 28)
}, iqSets(qE, iqE_comb, iqE_cons, iqE_cons, iqE_cons, resE_comb, resE_cons, 0.548), {
  vtitles: [{ text: DT, side: 'right', d: 21.7, dy: 3, font: resFont }]
});
</script>
</body>
</html>
